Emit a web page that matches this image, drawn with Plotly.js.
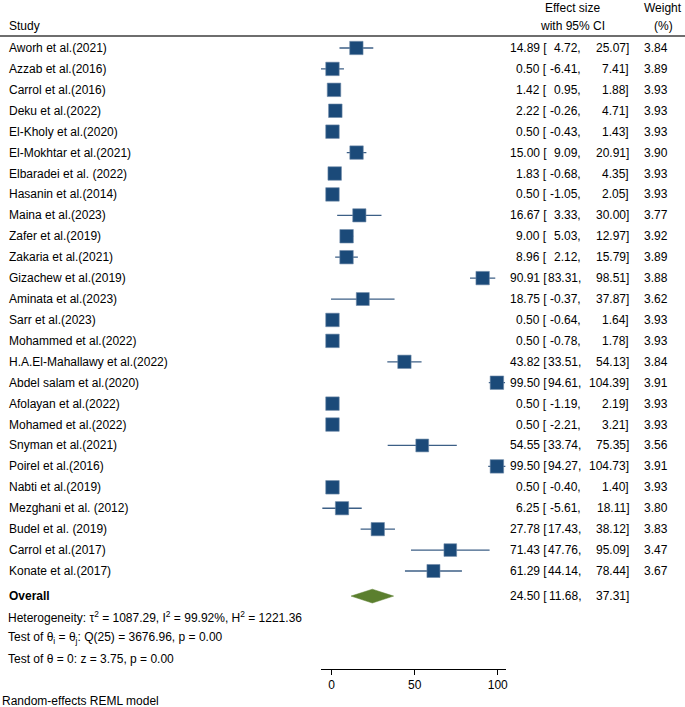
<!DOCTYPE html>
<html>
<head>
<meta charset="utf-8">
<script src="https://cdn.plot.ly/plotly-3.0.1.min.js"></script>
<style>html,body{margin:0;padding:0;background:#fff;}#chart{width:685px;height:707px;}</style>
</head>
<body>
<div id="chart"></div>
<script>
const studies = [
  "Aworh et al.(2021)","Azzab et al.(2016)","Carrol et al.(2016)","Deku et al.(2022)",
  "El-Kholy et al.(2020)","El-Mokhtar et al.(2021)","Elbaradei et al. (2022)","Hasanin et al.(2014)",
  "Maina et al.(2023)","Zafer et al.(2019)","Zakaria et al.(2021)","Gizachew et al.(2019)",
  "Aminata et al.(2023)","Sarr et al.(2023)","Mohammed et al.(2022)","H.A.El-Mahallawy et al.(2022)",
  "Abdel salam et al.(2020)","Afolayan et al.(2022)","Mohamed et al.(2022)","Snyman et al.(2021)",
  "Poirel et al.(2016)","Nabti et al.(2019)","Mezghani et al. (2012)","Budel et al. (2019)",
  "Carrol et al.(2017)","Konate et al.(2017)"
];
const est = [14.89,0.50,1.42,2.22,0.50,15.00,1.83,0.50,16.67,9.00,8.96,90.91,18.75,0.50,0.50,43.82,99.50,0.50,0.50,54.55,99.50,0.50,6.25,27.78,71.43,61.29];
const lo  = [4.72,-6.41,0.95,-0.26,-0.43,9.09,-0.68,-1.05,3.33,5.03,2.12,83.31,-0.37,-0.64,-0.78,33.51,94.61,-1.19,-2.21,33.74,94.27,-0.40,-5.61,17.43,47.76,44.14];
const hi  = [25.07,7.41,1.88,4.71,1.43,20.91,4.35,2.05,30.00,12.97,15.79,98.51,37.87,1.64,1.78,54.13,104.39,2.19,3.21,75.35,104.73,1.40,18.11,38.12,95.09,78.44];
const weight = [3.84,3.89,3.93,3.93,3.93,3.90,3.93,3.93,3.77,3.92,3.89,3.88,3.62,3.93,3.93,3.84,3.91,3.93,3.93,3.56,3.91,3.93,3.80,3.83,3.47,3.67];
const overall = {est: 24.50, lo: 11.68, hi: 37.31};
const statLines = [
  "Heterogeneity: τ<sup>2</sup> = 1087.29, I<sup>2</sup> = 99.92%, H<sup>2</sup> = 1221.36",
  "Test of θ<sub>i</sub> = θ<sub>j</sub>: Q(25) = 3676.96, p = 0.00",
  "Test of θ = 0: z = 3.75, p = 0.00"
];
const tickVals = [0, 50, 100];
const modelNote = "Random-effects REML model";

const W = 685, H = 707;
const FONT = "Liberation Sans, Arial, Helvetica, sans-serif";
const fs = 12;
const rowY = studies.map((_, i) => -i);
const overallY = -26.2;
const statY = [-27.2, -28.2, -29.2];
const px = v => v / W;

const traces = [
  {
    type: "scatter", mode: "markers", x: est, y: rowY,
    marker: {symbol: "square", color: "#1b4a79", opacity: 1,
             size: weight.map(w => 13.5 * Math.sqrt(w / 3.93)),
             line: {color: "#6f89a8", width: 0.6}},
    error_x: {type: "data", symmetric: false,
              array: hi.map((h, i) => h - est[i]), arrayminus: lo.map((l, i) => est[i] - l),
              color: "#3c5f86", thickness: 1.3, width: 0},
    cliponaxis: false, hoverinfo: "skip"
  },
  {
    type: "scatter", mode: "lines", fill: "toself",
    x: [overall.lo, overall.est, overall.hi, overall.est, overall.lo],
    y: [overallY, overallY + 0.33, overallY, overallY - 0.33, overallY],
    line: {color: "#5b7f2e", width: 0.5}, fillcolor: "#5b7f2e",
    cliponaxis: false, hoverinfo: "skip"
  }
];

const ann = [];
const base = {showarrow: false, font: {family: FONT, size: fs, color: "#000"}, xref: "paper", yref: "y", yanchor: "middle"};
studies.forEach((s, i) => {
  ann.push(Object.assign({}, base, {x: px(7), y: rowY[i], text: s, xanchor: "left"}));
  ann.push(Object.assign({}, base, {x: px(549), y: rowY[i], text: est[i].toFixed(2) + " [", xanchor: "right"}));
  ann.push(Object.assign({}, base, {x: px(583), y: rowY[i], text: lo[i].toFixed(2) + ",", xanchor: "right"}));
  ann.push(Object.assign({}, base, {x: px(631), y: rowY[i], text: hi[i].toFixed(2) + "]", xanchor: "right"}));
  ann.push(Object.assign({}, base, {x: px(670), y: rowY[i], text: weight[i].toFixed(2), xanchor: "right"}));
});
ann.push(Object.assign({}, base, {x: px(7), y: overallY, text: "<b>Overall</b>", xanchor: "left"}));
ann.push(Object.assign({}, base, {x: px(549), y: overallY, text: overall.est.toFixed(2) + " [", xanchor: "right"}));
ann.push(Object.assign({}, base, {x: px(583), y: overallY, text: overall.lo.toFixed(2) + ",", xanchor: "right"}));
ann.push(Object.assign({}, base, {x: px(631), y: overallY, text: overall.hi.toFixed(2) + "]", xanchor: "right"}));
statLines.forEach((t, k) => {
  ann.push(Object.assign({}, base, {x: px(6), y: statY[k], text: t, xanchor: "left"}));
});
const pbase = Object.assign({}, base, {yref: "paper"});
const py = v => 1 - v / H;
ann.push(Object.assign({}, pbase, {x: px(7), y: py(26), text: "Study", xanchor: "left"}));
ann.push(Object.assign({}, pbase, {x: px(572), y: py(8), text: "Effect size", xanchor: "center"}));
ann.push(Object.assign({}, pbase, {x: px(572), y: py(26), text: "with 95% CI", xanchor: "center"}));
ann.push(Object.assign({}, pbase, {x: px(663), y: py(8), text: "Weight", xanchor: "center"}));
ann.push(Object.assign({}, pbase, {x: px(663), y: py(26), text: "(%)", xanchor: "center"}));
ann.push(Object.assign({}, pbase, {x: px(0), y: py(701), text: modelNote, xanchor: "left"}));

const layout = {
  width: W, height: H,
  margin: {l: 0, r: 0, t: 0, b: 0, pad: 0},
  paper_bgcolor: "#fff", plot_bgcolor: "#fff",
  showlegend: false,
  font: {family: FONT, size: fs, color: "#000"},
  xaxis: {
    domain: [321 / W, 505.6 / W], range: [-6.41, 104.73],
    showgrid: false, zeroline: false, showline: true, linecolor: "#000", linewidth: 1,
    ticks: "outside", ticklen: 5, tickcolor: "#000", tickwidth: 1,
    tickvals: tickVals, ticktext: tickVals.map(String),
    tickfont: {family: FONT, size: fs, color: "#000"}, fixedrange: true
  },
  yaxis: {
    domain: [38 / H, 1], range: [-29.685, 2.294],
    visible: false, showgrid: false, zeroline: false, fixedrange: true
  },
  shapes: [
    {type: "line", xref: "paper", yref: "paper", x0: 0, x1: 1, y0: py(36), y1: py(36),
     line: {color: "#6e6e6e", width: 2.2}}
  ],
  annotations: ann
};

Plotly.newPlot("chart", traces, layout, {staticPlot: true, displayModeBar: false});
</script>
</body>
</html>
